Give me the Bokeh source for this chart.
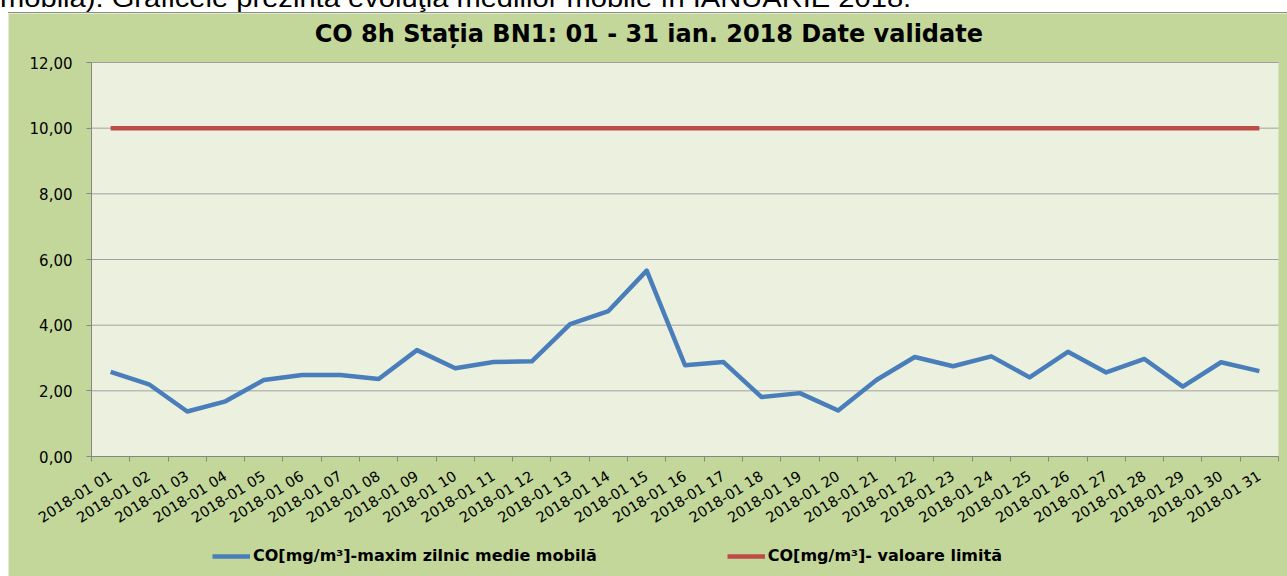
import numpy as np
from bokeh.plotting import figure
from bokeh.models import FixedTicker, Legend, LegendItem, Div, Range1d, BoxAnnotation, Label
from bokeh.layouts import column
from bokeh.embed import file_html
from bokeh.resources import INLINE

# ---- data ----
days = ["2018-01 01", "2018-01 02", "2018-01 03", "2018-01 04", "2018-01 05",
        "2018-01 06", "2018-01 07", "2018-01 08", "2018-01 09", "2018-01 10",
        "2018-01 11", "2018-01 12", "2018-01 13", "2018-01 14", "2018-01 15",
        "2018-01 16", "2018-01 17", "2018-01 18", "2018-01 19", "2018-01 20",
        "2018-01 21", "2018-01 22", "2018-01 23", "2018-01 24", "2018-01 25",
        "2018-01 26", "2018-01 27", "2018-01 28", "2018-01 29", "2018-01 30",
        "2018-01 31"]
co_max = [2.58, 2.20, 1.37, 1.68, 2.33, 2.48, 2.48, 2.36, 3.24, 2.69,
          2.88, 2.90, 4.03, 4.43, 5.66, 2.78, 2.88, 1.81, 1.93, 1.40,
          2.33, 3.03, 2.75, 3.05, 2.41, 3.19, 2.56, 2.97, 2.13, 2.87, 2.60]
co_limit = [10.0] * 31
y_ticks = [0, 2, 4, 6, 8, 10, 12]
y_tick_labels = ["0,00", "2,00", "4,00", "6,00", "8,00", "10,00", "12,00"]
title_text = "CO 8h  Stația BN1: 01 - 31 ian. 2018 Date validate"
legend_labels = ["CO[mg/m³]-maxim zilnic medie mobilă", "CO[mg/m³]- valoare limită"]
header_text = "mobilă). Graficele prezintă evoluţia mediilor mobile în IANUARIE 2018."

FONT = "DejaVu Sans"
GREEN = "#c4d79b"
PLOT_BG = "#ebf1de"
GRID = "#a0a0a0"
AXIS = "#868686"
BLUE = "#4a7ebb"
RED = "#be4b48"
x_pos = list(range(1, len(days) + 1))
n = len(days)
ymax = max(y_ticks)

# ---- layout (pixels): figure 1279x563; value area inside it ----
W, H = 1279, 563
PL, PR, PT, PB = 83, 9, 49, 120            # margins around the value area
px_per_x = (W - PL - PR) / n
px_per_y = (H - PT - PB) / ymax
x_lo, x_hi = 0.5 - PL / px_per_x, n + 0.5 + PR / px_per_x
y_lo, y_hi = -PB / px_per_y, ymax + PT / px_per_y

p = figure(width=W, height=H, output_backend="svg", toolbar_location=None,
           x_range=Range1d(x_lo, x_hi), y_range=Range1d(y_lo, y_hi),
           min_border=0, min_border_left=0, min_border_right=0,
           min_border_top=0, min_border_bottom=0,
           background_fill_color=GREEN, border_fill_color=GREEN,
           outline_line_color=None, margin=(0, 0, 0, 8))
p.title.visible = False

# plot-area background
p.add_layout(BoxAnnotation(left=0.5, right=n + 0.5, bottom=0, top=ymax,
                           fill_color=PLOT_BG, fill_alpha=1.0, line_color=None,
                           level="image"))

# horizontal gridlines limited to the value area
p.xgrid.visible = False
p.ygrid.visible = False
p.segment(x0=[0.5] * len(y_ticks), x1=[n + 0.5] * len(y_ticks), y0=y_ticks, y1=y_ticks,
          line_color=GRID, line_width=1, level="underlay")

# title
p.add_layout(Label(x=644.5, y=H - 20.5, x_units="screen", y_units="screen",
                   text=title_text, text_align="center", text_baseline="middle",
                   text_font=FONT, text_font_size="24px", text_font_style="bold",
                   text_color="#000000"))

# y axis at the left edge of the value area
p.yaxis.fixed_location = 0.5
p.yaxis.ticker = FixedTicker(ticks=y_ticks)
p.yaxis.bounds = (0, ymax)
p.yaxis.major_label_overrides = {t: l for t, l in zip(y_ticks, y_tick_labels)}
p.yaxis.axis_line_color = AXIS
p.yaxis.major_tick_line_color = AXIS
p.yaxis.major_tick_out = 5
p.yaxis.major_tick_in = 0
p.yaxis.minor_tick_line_color = None
p.yaxis.major_label_text_font = FONT
p.yaxis.major_label_text_font_size = "15px"
p.yaxis.major_label_text_color = "#000000"
p.yaxis.major_label_standoff = 14

# x axis at value 0
p.xaxis.fixed_location = 0
p.xaxis.bounds = (0.5, n + 0.5)
p.xaxis.ticker = FixedTicker(ticks=x_pos, minor_ticks=[x - 0.5 for x in x_pos] + [n + 0.5])
p.xaxis.major_label_overrides = {x: d for x, d in zip(x_pos, days)}
p.xaxis.axis_line_color = AXIS
p.xaxis.major_tick_line_color = None
p.xaxis.minor_tick_line_color = AXIS
p.xaxis.minor_tick_out = 5
p.xaxis.minor_tick_in = 0
p.xaxis.major_label_orientation = 0.56
p.xaxis.major_label_text_font = FONT
p.xaxis.major_label_text_font_size = "14.5px"
p.xaxis.major_label_text_color = "#000000"
p.xaxis.major_label_standoff = 12

# series
r_blue = p.line(x_pos, co_max, line_color=BLUE, line_width=4.5, line_join="round")
r_red = p.line(x_pos, co_limit, line_color=RED, line_width=4.5)

# legend below the tick labels
legend = Legend(items=[LegendItem(label=legend_labels[0], renderers=[r_blue]),
                       LegendItem(label=legend_labels[1], renderers=[r_red])],
                orientation="horizontal", location=(204, 11),
                padding=0, margin=0, spacing=130, glyph_width=38, glyph_height=18,
                label_height=18, label_standoff=3,
                label_text_font=FONT, label_text_font_size="16px",
                label_text_font_style="bold", label_text_color="#000000",
                background_fill_alpha=0, border_line_color=None)
p.add_layout(legend, "center")

header = Div(text='<div style="position:relative;width:1287px;height:13px;">'
                  '<div style="position:absolute;left:0px;top:-15px;white-space:nowrap;'
                  'transform:scaleX(1.12);transform-origin:0 0;'
                  'font-family:Arial,\'Liberation Sans\',sans-serif;font-size:26px;line-height:26px;color:#000">'
                  + header_text + '</div>'
                  '<div style="position:absolute;left:8px;top:12px;width:1279px;height:1px;'
                  'background:#8c8c8c"></div></div>',
             width=1287, height=13, margin=0,
             styles={"overflow": "visible"})

layout = column(header, p, spacing=0)

open("out.html", "w").write(file_html(layout, INLINE))
